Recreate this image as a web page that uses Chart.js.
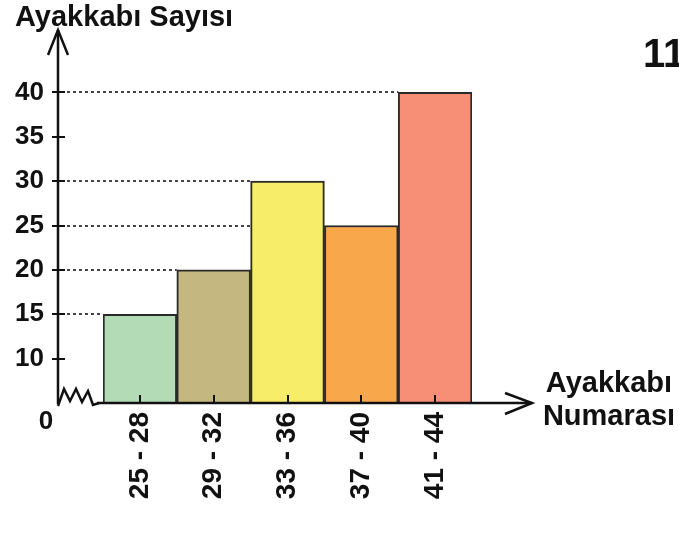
<!DOCTYPE html>
<html>
<head>
<meta charset="utf-8">
<script src="https://cdn.jsdelivr.net/npm/chart.js@4/dist/chart.umd.min.js"></script>
<style>
  html, body { margin: 0; padding: 0; background: #fff; }
  canvas { display: block; }
</style>
</head>
<body>
<canvas id="c" width="679" height="552"></canvas>
<script>
// Histogramme : nombre de chaussures par pointure
const categories = ['25 - 28', '29 - 32', '33 - 36', '37 - 40', '41 - 44']
const counts     = [15, 20, 30, 25, 40]
const yTicks     = [10, 15, 20, 25, 30, 35, 40]
const Y_MIN = 5
const Y_MAX = 45

const yTitle  = 'Ayakkabı Sayısı'
const xTitle  = ['Ayakkabı', 'Numarası']
const origine = '0'
const numero  = '11'

const barColors = ['#B3DBB6', '#C4B880', '#F8ED69', '#F9A74B', '#F68F76']
const NOIR  = '#111111'
const FONTE = "'Liberation Sans', Arial, sans-serif"

const axes = {
  id: 'axes',
  beforeDatasetsDraw(chart) {
    const { ctx } = chart
    const y = chart.scales.y
    const bars = chart.getDatasetMeta(0).data
    const ax = chart.chartArea.left - 45
    ctx.save()
    // pointillés jusqu'au bord gauche de chaque barre
    ctx.strokeStyle = '#444'
    ctx.lineWidth = 2
    ctx.setLineDash([3, 3])
    bars.forEach((b, i) => {
      const py = Math.round(y.getPixelForValue(counts[i]))
      ctx.beginPath()
      ctx.moveTo(ax + 9, py)
      ctx.lineTo(b.x - b.width / 2, py)
      ctx.stroke()
    })
    ctx.restore()
  },
  afterDatasetsDraw(chart) {
    const { ctx, chartArea } = chart
    const y = chart.scales.y
    const x = chart.scales.x
    const ax = chartArea.left - 45
    const ay = Math.round(y.getPixelForValue(Y_MIN))
    const top = chartArea.top - 18
    ctx.save()
    ctx.strokeStyle = NOIR
    ctx.lineWidth = 2.5
    ctx.lineJoin = 'miter'
    // axe vertical + flèche
    ctx.beginPath()
    ctx.moveTo(ax, ay + 1)
    ctx.lineTo(ax, top)
    ctx.stroke()
    ctx.beginPath()
    ctx.moveTo(ax - 10, top + 25)
    ctx.lineTo(ax, top)
    ctx.lineTo(ax + 10, top + 25)
    ctx.stroke()
    // coupure en zigzag
    ctx.beginPath()
    ctx.moveTo(ax, ay + 3)
    ctx.lineTo(ax + 6, ay - 14)
    ctx.lineTo(ax + 12, ay - 2)
    ctx.lineTo(ax + 18, ay - 14)
    ctx.lineTo(ax + 24, ay - 1)
    ctx.lineTo(ax + 30, ay - 12)
    ctx.lineTo(ax + 35, ay + 2)
    ctx.lineTo(ax + 41, ay)
    ctx.stroke()
    // axe horizontal + flèche
    const xEnd = chartArea.right + 60
    ctx.beginPath()
    ctx.moveTo(ax + 39, ay)
    ctx.lineTo(xEnd, ay)
    ctx.stroke()
    ctx.beginPath()
    ctx.moveTo(xEnd - 27, ay - 10)
    ctx.lineTo(xEnd, ay)
    ctx.lineTo(xEnd - 27, ay + 11)
    ctx.stroke()
    // graduations
    ctx.lineWidth = 2
    yTicks.forEach(v => {
      const py = Math.round(y.getPixelForValue(v))
      ctx.beginPath()
      ctx.moveTo(ax - 6, py)
      ctx.lineTo(ax + 7, py)
      ctx.stroke()
    })
    categories.forEach((c, i) => {
      const px = Math.round(x.getPixelForValue(i))
      ctx.beginPath()
      ctx.moveTo(px, ay - 8)
      ctx.lineTo(px, ay)
      ctx.stroke()
    })
    // textes
    ctx.fillStyle = NOIR
    ctx.font = `bold 29px ${FONTE}`
    ctx.textAlign = 'left'
    ctx.textBaseline = 'alphabetic'
    ctx.fillText(yTitle, 15, 26)
    ctx.textAlign = 'center'
    ctx.fillText(xTitle[0], 609, 392)
    ctx.fillText(xTitle[1], 609, 425)
    ctx.font = `bold 26px ${FONTE}`
    ctx.fillText(origine, 46, 429)
    ctx.font = `bold 40px ${FONTE}`
    ctx.textAlign = 'left'
    ctx.fillText(numero, 643, 67)
    ctx.restore()
  },
}

new Chart(document.getElementById('c').getContext('2d'), {
  type: 'bar',
  data: {
    labels: categories,
    datasets: [{
      data: counts,
      backgroundColor: barColors,
      borderColor: '#2a2a2a',
      borderWidth: 2,
      borderSkipped: false,
      barPercentage: 1,
      categoryPercentage: 1,
    }],
  },
  options: {
    responsive: false,
    animation: false,
    devicePixelRatio: 1,
    layout: { padding: { top: 48, right: 207, left: 0, bottom: 0 } },
    plugins: {
      legend: { display: false },
      tooltip: { enabled: false },
      title: { display: false },
    },
    scales: {
      x: {
        grid: { display: false, drawTicks: false },
        border: { display: false },
        ticks: {
          autoSkip: false, minRotation: 90, maxRotation: 90, padding: 9,
          color: NOIR, font: { family: FONTE, size: 28, weight: 'bold' },
        },
        afterFit(s) {
          s.height = 149
          s.paddingLeft = 0
          s.paddingRight = 0
        },
      },
      y: {
        min: Y_MIN, max: Y_MAX,
        grid: { display: false, drawTicks: false },
        border: { display: false },
        ticks: {
          padding: 59,
          color: NOIR, font: { family: FONTE, size: 26, weight: 'bold' },
        },
        afterBuildTicks(s) { s.ticks = yTicks.map(v => ({ value: v })) },
        afterFit(s) {
          s.width = 103
          s.paddingTop = 0
          s.paddingBottom = 0
        },
      },
    },
  },
  plugins: [axes],
})
</script>
</body>
</html>
